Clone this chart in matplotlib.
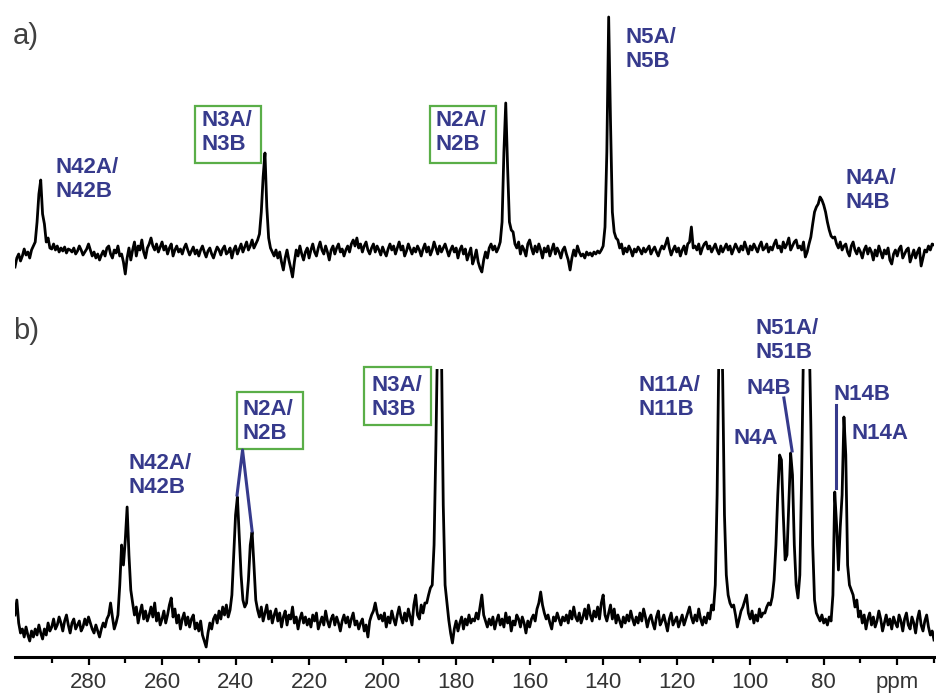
import numpy as np
import matplotlib.pyplot as plt
from matplotlib.patches import Rectangle

plt.rcParams['font.family'] = ['Liberation Sans', 'DejaVu Sans']

# chemical shift grid, 0.5 ppm steps from 300 down to 50 ppm
ppm = np.arange(300.0, 49.9, -0.5)

# spectrum a) intensities (one row = 10 ppm)
spec_a = [
    -15, -6, -2, -9, -4, 3, -3, 0, -6, 2, 6, 10, 30, 58, 72, 38, 28, 10, 14, 4,
    3, 8, 2, 6, 0, 4, 1, 5, -1, 3, 2, 0, 4, -2, 1, 6, 2, -3, 0, 3,
    8, 2, -4, 0, -6, -2, -8, -3, 1, -4, 4, 6, -2, -6, 2, -1, 6, -4, -2, -10,
    -22, -6, 4, -8, 2, 10, -4, 6, 2, 12, 0, -6, 4, 8, 14, 6, 2, 8, 0, 5,
    10, 2, 6, -2, 4, 8, -4, 2, 6, 0, 3, -2, 4, 8, 2, -3, 1, 5, -2, 2,
    -4, 2, 6, 0, -5, 1, 4, -2, -6, 0, 5, 2, -3, 3, 6, -2, 0, 4, -6, 2,
    6, -2, 3, 8, 0, 5, 10, 2, 6, 12, 4, 8, 12, 18, 40, 75, 99, 45, 14, 4,
    0, -4, 2, -6, 0, -10, -18, -6, 2, -8, -16, -25, -10, 2, -4, 6, -2, -8, 0, 4,
    -6, 2, 8, 0, -4, 4, 10, 2, -2, 6, 0, -8, 2, 6, -2, 4, 8, 0, 3, -4,
    2, 6, 0, 8, 12, 6, 14, 4, 8, 0, 6, 10, 2, -2, 4, 8, 0, 6, 2, -3,
    5, 0, -4, 3, 8, 2, 6, -2, 4, 10, 2, 6, -4, 1, 8, 3, -2, 4, 0, 6,
    2, -4, 3, 8, 0, 5, -3, 2, 10, 4, -2, 6, 0, 4, 8, 2, -4, 2, 6, 0,
    4, -6, 2, 6, -2, 3, -8, -2, 4, -12, -6, 2, -10, -16, -20, -8, 0, -6, 4, 8,
    2, 6, 0, 4, 10, 30, 100, 149, 85, 30, 22, 20, 8, 4, 10, -2, 6, 2, -4, 8,
    12, 4, -2, 6, 0, 8, 2, -6, 4, 0, 6, -4, 2, 8, -2, 4, 0, -6, 2, 5,
    -2, -8, -18, -6, 2, -4, 6, 0, -4, -2, -6, 0, -3, -1, -4, 0, -2, 1, -1, 2,
    6, 25, 100, 235, 130, 40, 20, 14, 12, 4, 8, -2, 4, 0, 6, 2, -4, 3, 0, 5,
    2, -2, 4, 0, 3, 6, -2, 2, 5, 0, -4, 2, 6, 3, 8, 14, 4, -3, 2, 6,
    0, 4, -4, 2, 6, -2, 8, 10, 25, 4, 6, 2, 8, -2, 4, 8, 10, 3, 6, 0,
    4, 8, 2, -2, 6, 0, 4, 8, 2, 6, -2, 3, 8, 4, 0, 6, 2, 10, 4, -2,
    6, 2, 8, 4, 0, 6, 10, 2, 4, 8, 0, 5, 2, 8, 12, 4, 6, 0, 10, 4,
    8, 14, 2, 6, 10, 12, 4, 6, 2, 10, -5, 0, 8, 15, 28, 40, 45, 48, 55, 52,
    47, 40, 30, 22, 16, 14, 15, 8, 4, 10, 2, 6, 8, 0, -4, 6, 10, 2, -2, 4,
    0, -6, 2, 6, -2, 4, 0, -8, 2, -4, 6, 0, -6, 2, -2, 4, -8, -12, -2, 2,
    -4, 3, 6, -6, -2, 2, 4, -10, -4, 2, -6, 0, 4, -14, -6, 2, 0, 6, 2, 8,
    7,
]

# spectrum b) intensities (one row = 10 ppm)
spec_b = [
    10, 25, 2, -8, -4, -12, -2, -10, -16, -6, -12, -4, -10, 0, -8, -14, -4, -10, 2, -6,
    -2, 6, -4, 0, 8, 2, -6, 4, 10, 0, -8, 2, 6, -4, 0, 4, -6, -2, 6, 0,
    8, 2, -4, -8, 0, -6, -12, -4, 2, -2, 6, 10, 22, 8, -4, 2, 10, 40, 80, 60,
    85, 118, 70, 35, 22, 10, 18, 2, 12, 20, 6, 14, 4, 10, 18, 8, 22, 4, 12, 0,
    6, 14, 2, 10, 20, 27, 8, 16, 2, 10, -4, 6, 12, 0, 8, -2, 6, 10, -4, 2,
    -6, 4, -10, -16, -22, -8, 2, -4, 6, 10, 2, 14, 6, 18, 10, 20, 8, 15, 30, 70,
    110, 128, 90, 50, 25, 18, 22, 45, 80, 93, 60, 25, 15, 8, 18, 4, 12, 20, 6, 14,
    2, 10, 16, 4, 12, -2, 8, 14, 0, 10, 6, 18, 2, 8, -4, 6, 12, 2, 8, 0,
    6, -2, 10, 4, 12, -4, 2, 8, 0, 14, 4, -2, 6, 10, 0, 8, 2, -6, 4, 10,
    2, 8, -2, 6, 12, 0, 4, -4, 2, 6, -6, 0, -12, 4, 10, 14, 22, 12, 6, 10,
    4, 12, -2, 8, 2, 14, 6, 0, 10, 18, 8, 2, 12, 4, 16, 8, 0, 20, 30, 10,
    6, 20, 12, 22, 22, 30, 37, 40, 80, 180, 300, 340, 280, 120, 40, 22, 5, -8, -18, -4,
    4, -6, 2, 8, -4, 6, 0, 10, 2, 6, 4, 12, 6, 18, 30, 10, 4, -2, 6, 0,
    8, -4, 4, 10, 0, 6, -2, 12, 2, 8, -6, 4, 0, 10, 6, -2, 8, 2, -8, 4,
    -2, 6, 10, 4, 16, 22, 33, 20, 12, 6, 10, 2, -4, 8, 4, 12, 6, 0, 8, 4,
    10, 2, 14, 6, 18, 8, 4, 12, 2, 8, 16, 6, 20, 10, 4, 14, 8, 18, 6, 22,
    30, 10, 4, 12, 20, 6, 16, 2, 10, 4, -2, 8, 2, 10, 4, 14, 6, 0, 8, 2,
    12, 4, 16, 8, -2, 6, 10, 2, -4, 8, 14, 0, 4, 10, 2, -6, 6, 12, 0, 4,
    8, -2, 4, 10, 0, 6, 12, 18, 8, 2, 10, 4, 16, 6, 0, 8, 2, 12, 6, 20,
    15, 40, 130, 280, 340, 250, 110, 50, 30, 22, 18, 20, 10, -2, 6, 14, 18, 24, 30, 12,
    6, 14, 2, 10, 4, 16, 8, 12, 12, 18, 22, 20, 28, 45, 80, 130, 170, 165, 110, 65,
    70, 120, 172, 150, 80, 40, 27, 50, 150, 280, 330, 340, 300, 200, 80, 25, 12, 8, 4, 10,
    2, 6, 0, 8, 4, 30, 133, 100, 55, 98, 130, 208, 170, 60, 40, 35, 30, 18, 25, 8,
    14, 2, 10, -4, 6, 12, 0, 8, -2, 4, 14, 6, -6, 2, 10, 0, 6, -4, 8, 2,
    -2, 10, 4, -6, 6, 12, 0, -4, 8, 2, -8, 6, 14, 0, -6, 4, 10, -2, -10, -6,
    -15,
]

major_ticks = [280, 260, 240, 220, 200, 180, 160, 140, 120, 100, 80, 60]
tick_labels = ['280', '260', '240', '220', '200', '180', '160', '140', '120', '100', '80', 'ppm']
minor_ticks = [290, 270, 250, 230, 210, 190, 170, 150, 130, 110, 90, 70, 50]

blue = '#363a8c'
green = '#5aae48'
W, H = 937, 698

fig = plt.figure(figsize=(W / 100, H / 100), dpi=100)
ax_a = fig.add_axes([15 / W, 1 - 285 / H, 919 / W, 280 / H])
ax_b = fig.add_axes([15 / W, 1 - 656.7 / H, 919 / W, 287.4 / H])

ax_a.plot(ppm, spec_a, color='black', lw=2.0)
ax_b.plot(ppm, spec_b, color='black', lw=2.0)

for ax in (ax_a, ax_b):
    ax.set_xlim(300, 50)
    for s in ax.spines.values():
        s.set_visible(False)
    ax.set_yticks([])
ax_a.set_ylim(-33, 247)
ax_b.set_ylim(-31.7, 255.7)
ax_a.set_xticks([])

ax_b.spines['bottom'].set_visible(True)
ax_b.spines['bottom'].set_linewidth(2.2)
ax_b.set_xticks(major_ticks)
ax_b.set_xticklabels(tick_labels)
ax_b.set_xticks(minor_ticks, minor=True)
ax_b.tick_params(axis='x', which='major', length=6, width=1.6, pad=5,
                 labelsize=16, labelcolor='#333333')
ax_b.tick_params(axis='x', which='minor', length=4, width=1.6)

lab = dict(color=blue, fontsize=16, fontweight='bold', ha='left', va='top')

# a) labels
ax_a.text(289.1, 95, 'N42A/\nN42B', **lab)
ax_a.text(249.3, 142, 'N3A/\nN3B', **lab)
ax_a.text(185.6, 142, 'N2A/\nN2B', **lab)
ax_a.text(134.0, 225, 'N5A/\nN5B', **lab)
ax_a.text(74.0, 84, 'N4A/\nN4B', **lab)
ax_a.add_patch(Rectangle((232.96, 88.7), 17.94, 57.3, fill=False, ec=green, lw=1.6, clip_on=False))
ax_a.add_patch(Rectangle((169.1, 88.7), 18.1, 57.3, fill=False, ec=green, lw=1.6, clip_on=False))

# b) labels
ax_b.text(269.2, 172, 'N42A/\nN42B', **lab)
ax_b.text(238.1, 226, 'N2A/\nN2B', **lab)
ax_b.add_patch(Rectangle((221.7, 176), 17.9, 57.3, fill=False, ec=green, lw=1.6, clip_on=False))
ax_b.text(203.1, 250, 'N3A/\nN3B', **lab)
ax_b.add_patch(Rectangle((186.96, 200), 18.14, 57.7, fill=False, ec=green, lw=1.6, clip_on=False))
ax_b.text(130.5, 250, 'N11A/\nN11B', **lab)
ax_b.text(98.6, 307, 'N51A/\nN51B', **lab)
ax_b.text(101.1, 247, 'N4B', **lab)
ax_b.text(104.5, 197, 'N4A', **lab)
ax_b.text(77.3, 241, 'N14B', **lab)
ax_b.text(72.4, 202, 'N14A', **lab)

# connector lines
ax_b.plot([239.6, 238.1, 235.5], [130, 175, 94], color=blue, lw=2.2, clip_on=False)
ax_b.plot([90.84, 88.6], [227, 174], color=blue, lw=2.2, clip_on=False)
ax_b.plot([76.6, 76.6], [220, 137], color=blue, lw=2.2, clip_on=False)

fig.text(13 / W, 1 - 36 / H, 'a)', fontsize=21, color='#404040', va='center', ha='left')
fig.text(13 / W, 1 - 331 / H, 'b)', fontsize=21, color='#404040', va='center', ha='left')

fig.savefig('out.png', dpi=100)
